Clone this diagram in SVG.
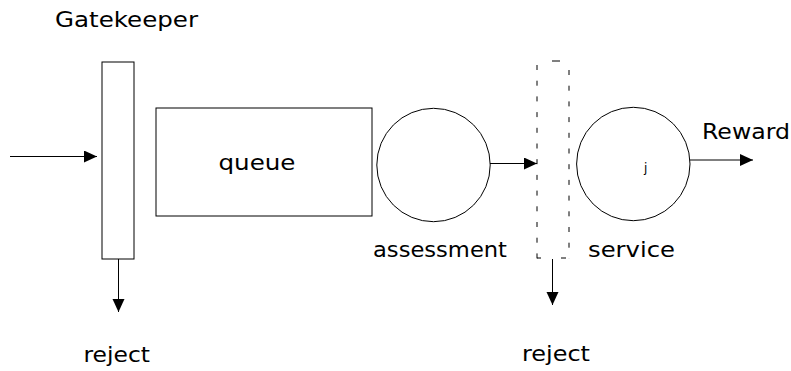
<svg xmlns="http://www.w3.org/2000/svg" width="791" height="371" viewBox="0 0 791 371">
  <style>
    .shape { fill: none; stroke: #000; stroke-width: 1; }
    .dash { fill: none; stroke: #000; stroke-width: 1; stroke-dasharray: 5 10.7; }
    .link { fill: none; stroke: #000; stroke-width: 1; marker-end: url(#head); }
    .label { font-family: "DejaVu Sans", "Liberation Sans", sans-serif; font-size: 21px; fill: #000; }
  </style>
  <defs>
    <marker id="head" markerUnits="userSpaceOnUse" markerWidth="14" markerHeight="14" refX="13" refY="6" orient="auto">
      <path d="M0,0 L13,6 L0,12 z" fill="#000"/>
    </marker>
  </defs>
  <rect width="791" height="371" fill="#fff"/>

  <!-- gatekeeper gate -->
  <g id="gatekeeper">
    <rect class="shape" x="102" y="62" width="32" height="197"/>
    <text class="label" x="55" y="26.5" textLength="143" lengthAdjust="spacingAndGlyphs">Gatekeeper</text>
  </g>

  <!-- waiting queue -->
  <g id="queue">
    <rect class="shape" x="156" y="108" width="216" height="108"/>
    <text class="label" x="218.5" y="169.5" textLength="77" lengthAdjust="spacingAndGlyphs">queue</text>
  </g>

  <!-- assessment stage -->
  <g id="assessment">
    <circle class="shape" cx="433.5" cy="165" r="56.7"/>
    <text class="label" x="373" y="257" textLength="134" lengthAdjust="spacingAndGlyphs">assessment</text>
  </g>

  <!-- second gate, drawn dashed -->
  <g id="gate2">
    <line class="dash" x1="537" y1="61" x2="537" y2="258.5" stroke-dashoffset="11.7"/>
    <line class="dash" x1="569" y1="61" x2="569" y2="258.5" stroke-dashoffset="6.7"/>
    <line class="shape" x1="552" y1="61" x2="560" y2="61"/>
    <line class="shape" x1="537" y1="258" x2="541" y2="258"/>
    <line class="shape" x1="561" y1="258" x2="566" y2="258"/>
  </g>

  <!-- service stage -->
  <g id="service">
    <circle class="shape" cx="633.3" cy="164" r="56.7"/>
    <text class="label" x="644" y="172" style="font-size:12px">j</text>
    <text class="label" x="588" y="257" textLength="87" lengthAdjust="spacingAndGlyphs">service</text>
  </g>

  <!-- outcome labels -->
  <g id="reward">
    <text class="label" x="702" y="138.5" textLength="88" lengthAdjust="spacingAndGlyphs">Reward</text>
  </g>
  <g id="reject1">
    <text class="label" x="83.5" y="361.5" textLength="66.5" lengthAdjust="spacingAndGlyphs">reject</text>
  </g>
  <g id="reject2">
    <text class="label" x="522" y="361" textLength="68" lengthAdjust="spacingAndGlyphs">reject</text>
  </g>

  <!-- connectors -->
  <g id="connectors">
    <line class="link" x1="10" y1="156.5" x2="97" y2="156.5"/>
    <line class="link" x1="118.5" y1="259" x2="118.5" y2="312"/>
    <line class="link" x1="490" y1="163.5" x2="537" y2="163.5"/>
    <line class="link" x1="552.5" y1="259" x2="552.5" y2="305"/>
    <line class="link" x1="690" y1="160" x2="753" y2="160"/>
  </g>
</svg>
